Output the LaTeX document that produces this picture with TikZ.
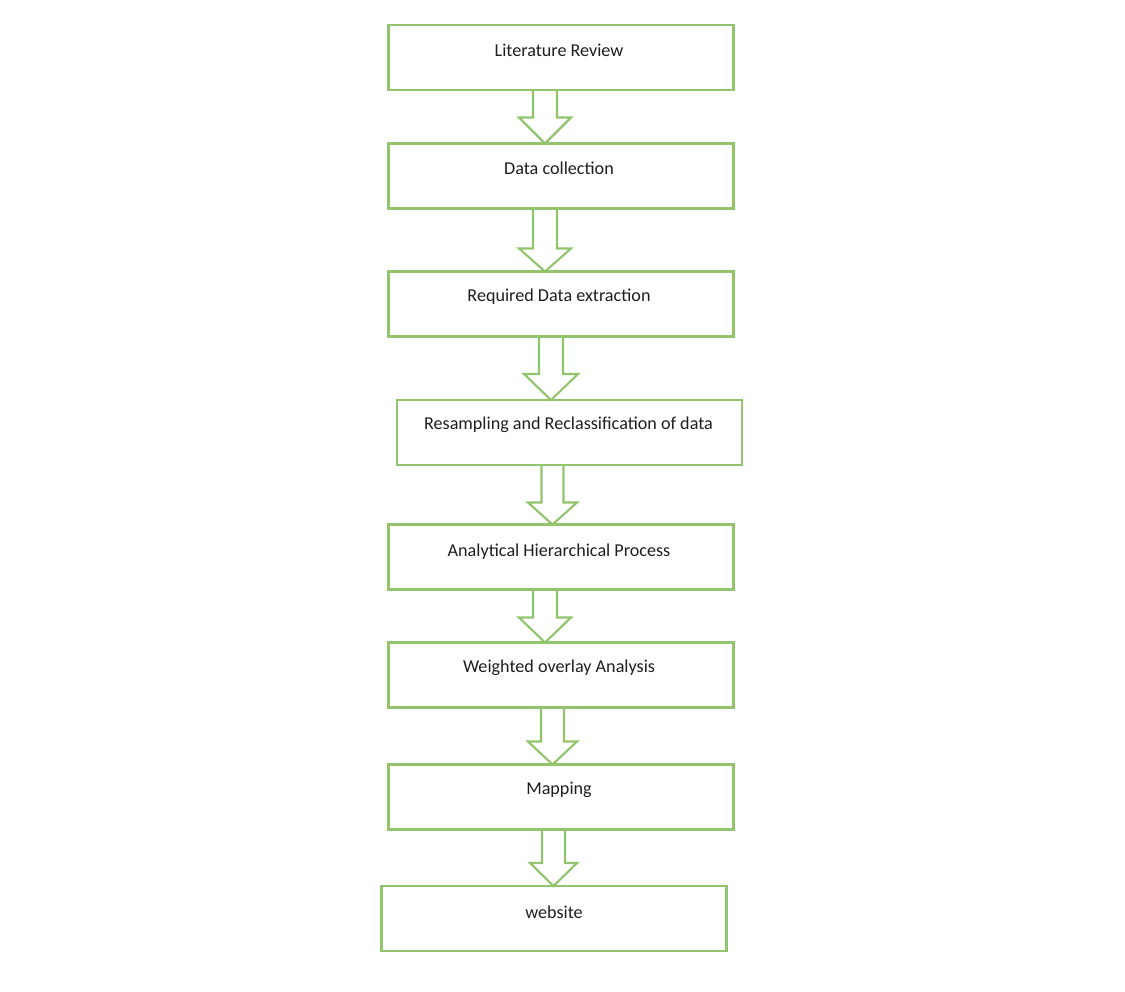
\documentclass[tikz,border=0pt]{standalone}
\usepackage{fontspec}
\setmainfont{Carlito}
\usetikzlibrary{calc}
\definecolor{boxgreen}{RGB}{146,196,110}
\definecolor{txtgray}{RGB}{30,30,30}
\tikzset{
  stepbox/.style={draw=boxgreen, line width=1.6pt, rectangle, minimum width=345*0.75pt, minimum height=65*0.75pt, inner sep=0pt, outer sep=0pt},
  txt/.style={text=txtgray, font=\fontsize{13.6}{16}\selectfont, inner sep=0pt},
  arr/.style={draw=boxgreen, line width=1.6pt, line join=miter}
}
% #1 from, #2 to, #3 dx of arrow axis from source centre (px), #4 half shaft, #5 half head, #6 head length (all px)
\newcommand\barrow[6]{%
  \draw[arr] let \p1=($(#1.south)+(#3,0)$), \p2=(#2.north) in
    ({\x1-#4*0.75pt},\y1) -- ({\x1-#4*0.75pt},{\y2+#6*0.75pt}) -- ({\x1-#5*0.75pt},{\y2+#6*0.75pt})
    -- (\x1,\y2) -- ({\x1+#5*0.75pt},{\y2+#6*0.75pt}) -- ({\x1+#4*0.75pt},{\y2+#6*0.75pt}) -- ({\x1+#4*0.75pt},\y1);}
\begin{document}
\begin{tikzpicture}[x=0.75pt,y=-0.75pt]
\useasboundingbox (0,0) rectangle (1125,992);
\node[stepbox] (b1) at (561,57.5) {};
\node[stepbox] (b2) at (561,176) {};
\node[stepbox] (b3) at (561,304) {};
\node[stepbox] (b4) at (569.5,432.5) {};
\node[stepbox] (b5) at (561,557) {};
\node[stepbox] (b6) at (561,675) {};
\node[stepbox] (b7) at (561,797) {};
\node[stepbox] (b8) at (554,918.5) {};
\node[txt] (t1) at ($(b1.center)+(-2,-7.5)$) {Literature Review};
\node[txt] (t2) at ($(b2.center)+(-2,-8)$) {Data collection};
\node[txt] (t3) at ($(b3.center)+(-2,-7)$) {Required Data extraction};
\node[txt] (t4) at ($(b4.center)+(-1,-7.5)$) {Resampling and Reclassification of data};
\node[txt] (t5) at ($(b5.center)+(-2,-5)$) {Analytical Hierarchical Process};
\node[txt] (t6) at ($(b6.center)+(-2,-7)$) {Weighted overlay Analysis};
\node[txt] (t7) at ($(b7.center)+(-2,-7)$) {Mapping};
\node[txt] (t8) at ($(b8.center)+(0,-6.5)$) {website};
\barrow{b1}{b2}{-16}{12}{26}{26}
\barrow{b2}{b3}{-16}{12}{26}{23}
\barrow{b3}{b4}{-10}{12}{27}{26}
\barrow{b4}{b5}{-17}{11}{24.5}{22}
\barrow{b5}{b6}{-16}{12}{26}{25}
\barrow{b6}{b7}{-8.5}{11.5}{24.5}{23}
\barrow{b7}{b8}{-7.5}{11.5}{23.5}{23}
\end{tikzpicture}
\end{document}
